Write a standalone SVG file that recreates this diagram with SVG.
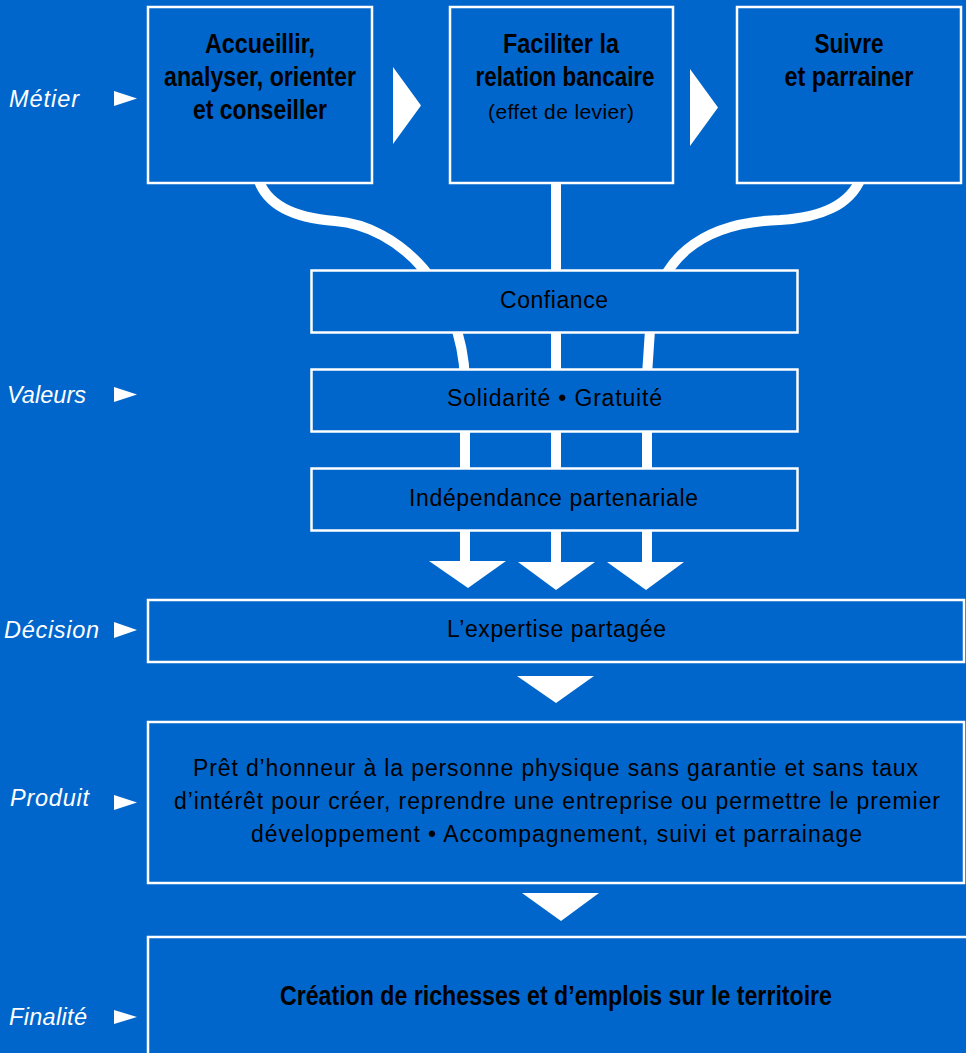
<svg xmlns="http://www.w3.org/2000/svg" width="966" height="1053" viewBox="0 0 966 1053">
  <style>
    .bg { fill: #0066cc; }
    .box { fill: #0066cc; stroke: #ffffff; stroke-width: 2.5; }
    .conn { fill: none; stroke: #ffffff; stroke-width: 10; }
    .tri { fill: #ffffff; stroke: none; }
    .title { font-family: "Liberation Sans Narrow", "Liberation Sans", Arial, sans-serif; font-weight: bold; font-size: 27.5px; fill: #000000; text-anchor: middle; }
    .body { font-family: "Liberation Sans", Arial, sans-serif; font-size: 23px; fill: #000000; text-anchor: middle; }
    .small { font-family: "Liberation Sans", Arial, sans-serif; font-size: 21px; fill: #000000; text-anchor: middle; }
    .label { font-family: "Liberation Sans", Arial, sans-serif; font-style: italic; font-size: 23.5px; fill: #ffffff; }
  </style>
  <rect class="bg" x="0" y="0" width="966" height="1053"/>

  <g id="connectors">
    <path class="conn" d="M 258,178 C 266,205 295,218 335,221 C 400,226 462,290 465,380 L 465,563"/>
    <path class="conn" d="M 556,178 L 556,563"/>
    <path class="conn" d="M 861,178 C 850,205 820,218 780,220 C 700,222 655,260 650,330 L 647,375 L 647,563"/>
    <polygon class="tri" points="429,561 506,561 468,588"/>
    <polygon class="tri" points="518,562 595,562 556,590"/>
    <polygon class="tri" points="607,562 684,562 646,590"/>
    <polygon class="tri" points="393,67 421,105.5 393,144"/>
    <polygon class="tri" points="690,69 718,107.5 690,146"/>
    <polygon class="tri" points="517,676 594,676 556,703"/>
    <polygon class="tri" points="522,893 599,893 561,921"/>
  </g>

  <g id="labels">
    <g id="label-metier">
      <text class="label" x="9" y="107" textLength="70" lengthAdjust="spacing">Métier</text>
      <polygon class="tri" points="114,91 137,98.5 114,106"/>
    </g>
    <g id="label-valeurs">
      <text class="label" x="7" y="403" textLength="79" lengthAdjust="spacing">Valeurs</text>
      <polygon class="tri" points="114,387 137,394.5 114,402"/>
    </g>
    <g id="label-decision">
      <text class="label" x="4" y="638" textLength="95" lengthAdjust="spacing">Décision</text>
      <polygon class="tri" points="114,622 137,630 114,638"/>
    </g>
    <g id="label-produit">
      <text class="label" x="10" y="806" textLength="79" lengthAdjust="spacing">Produit</text>
      <polygon class="tri" points="114,795 137,802.5 114,810"/>
    </g>
    <g id="label-finalite">
      <text class="label" x="9" y="1025" textLength="78" lengthAdjust="spacing">Finalité</text>
      <polygon class="tri" points="114,1010 137,1017 114,1024"/>
    </g>
  </g>

  <g id="node-accueillir">
    <rect class="box" x="148" y="7" width="224" height="176"/>
    <text class="title" x="260" y="53" textLength="110" lengthAdjust="spacingAndGlyphs">Accueillir,</text>
    <text class="title" x="260" y="86" textLength="192" lengthAdjust="spacingAndGlyphs">analyser, orienter</text>
    <text class="title" x="260" y="119" textLength="134" lengthAdjust="spacingAndGlyphs">et conseiller</text>
  </g>

  <g id="node-faciliter">
    <rect class="box" x="450" y="7" width="223" height="176"/>
    <text class="title" x="561" y="53" textLength="116" lengthAdjust="spacingAndGlyphs">Faciliter la</text>
    <text class="title" x="565" y="86" textLength="179" lengthAdjust="spacingAndGlyphs">relation bancaire</text>
    <text class="small" x="561" y="119" textLength="146" lengthAdjust="spacing">(effet de levier)</text>
  </g>

  <g id="node-suivre">
    <rect class="box" x="737" y="7" width="224" height="176"/>
    <text class="title" x="849" y="53" textLength="69" lengthAdjust="spacingAndGlyphs">Suivre</text>
    <text class="title" x="849" y="86" textLength="129" lengthAdjust="spacingAndGlyphs">et parrainer</text>
  </g>

  <g id="node-confiance">
    <rect class="box" x="311.5" y="270.5" width="486" height="62"/>
    <text class="body" x="554" y="308" textLength="108" lengthAdjust="spacing">Confiance</text>
  </g>

  <g id="node-solidarite">
    <rect class="box" x="311.5" y="369.5" width="486" height="62"/>
    <text class="body" x="554.5" y="406" textLength="215" lengthAdjust="spacing">Solidarité • Gratuité</text>
  </g>

  <g id="node-independance">
    <rect class="box" x="311.5" y="468.5" width="486" height="62"/>
    <text class="body" x="553.5" y="506" textLength="289" lengthAdjust="spacing">Indépendance partenariale</text>
  </g>

  <g id="node-expertise">
    <rect class="box" x="148" y="600" width="816" height="62"/>
    <text class="body" x="556.5" y="637" textLength="219" lengthAdjust="spacing">L’expertise partagée</text>
  </g>

  <g id="node-produit">
    <rect class="box" x="148" y="722" width="816" height="161"/>
    <text class="body" x="555.5" y="776" textLength="725" lengthAdjust="spacing">Prêt d’honneur à la personne physique sans garantie et sans taux</text>
    <text class="body" x="557" y="809" textLength="766" lengthAdjust="spacing">d’intérêt pour créer, reprendre une entreprise ou permettre le premier</text>
    <text class="body" x="556.5" y="842" textLength="611" lengthAdjust="spacing">développement • Accompagnement, suivi et parrainage</text>
  </g>

  <g id="node-finalite">
    <rect class="box" x="148" y="937" width="830" height="130"/>
    <text class="title" x="556" y="1005" textLength="552" lengthAdjust="spacingAndGlyphs">Création de richesses et d’emplois sur le territoire</text>
  </g>
</svg>
